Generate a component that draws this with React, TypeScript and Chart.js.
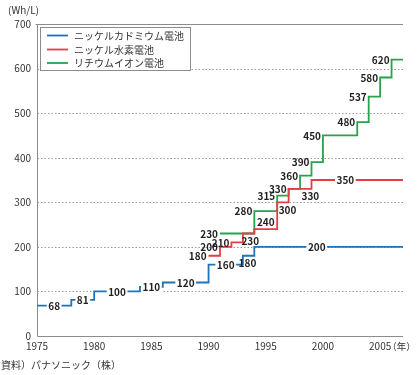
import React, { useEffect, useRef } from 'react';
import { Chart, registerables } from 'chart.js';

Chart.register(...registerables);

const FONT = '"Noto Sans CJK JP", "Noto Sans", sans-serif';

const seriesNames = ['ニッケルカドミウム電池', 'ニッケル水素電池', 'リチウムイオン電池'];
const seriesColors = ['#1f74b9', '#e43d45', '#27a24d'];

const nicdYears = [1975, 1978, 1980, 1984, 1986, 1990, 1993, 1994];
const nicdValues = [68, 81, 100, 110, 120, 160, 180, 200];
const nimhYears = [1990, 1991, 1992, 1993, 1994, 1996, 1997, 1999];
const nimhValues = [180, 200, 210, 230, 240, 300, 330, 350];
const liionYears = [1991, 1994, 1996, 1997, 1998, 1999, 2000, 2003, 2004, 2005, 2006];
const liionValues = [230, 280, 315, 330, 360, 390, 450, 480, 537, 580, 620];
const endYear = 2007;
const startYear = 1975;

const xTickYears = [1975, 1980, 1985, 1990, 1995, 2000, 2005];
const yTickValues = [0, 100, 200, 300, 400, 500, 600, 700];
const gridValues = [100, 200, 300, 400, 500, 600];

const unitLabel = '(Wh/L)';
const yearUnit = '（年）';
const sourceNote = '資料）パナソニック（株）';

// label placement: [anchor, fraction along the step segment]
const nicdLabelPlace: [string, number][] = [
  ['on', 0.5], ['on', 0.5], ['on', 0.5], ['on', 0.5], ['on', 0.5], ['on', 0.5], ['below', 0.4], ['on', 0.42],
];
const nimhLabelPlace: [string, number][] = [
  ['left', 0], ['left', 0], ['left', 0], ['below', 0.65], ['above', 0.5], ['below', 0.9], ['below', 0.95], ['on', 0.37],
];
const liionLabelPlace: [string, number][] = liionValues.map(() => ['left', 0] as [string, number]);

const seriesYears = [nicdYears, nimhYears, liionYears];
const seriesValues = [nicdValues, nimhValues, liionValues];
const seriesPlaces = [nicdLabelPlace, nimhLabelPlace, liionLabelPlace];

const toPoints = (years: number[], values: number[]) => {
  const pts = years.map((x, i) => ({ x, y: values[i] }));
  pts.push({ x: endYear, y: values[values.length - 1] });
  return pts;
};

const decorPlugin = {
  id: 'decor',
  beforeDatasetsDraw(chart: any) {
    const { ctx, chartArea, scales } = chart;
    const ys = scales.y;
    const L = Math.round(chartArea.left) + 0.5;
    const R = Math.round(chartArea.right);
    ctx.save();
    ctx.lineWidth = 1;
    ctx.strokeStyle = '#9a9a9a';
    ctx.setLineDash([1.5, 2]);
    gridValues.forEach((v) => {
      const y = Math.round(ys.getPixelForValue(v)) + 0.5;
      ctx.beginPath();
      ctx.moveTo(L, y);
      ctx.lineTo(R, y);
      ctx.stroke();
    });
    ctx.setLineDash([]);
    ctx.strokeStyle = '#8c8c8c';
    const yTop = Math.round(ys.getPixelForValue(700)) + 0.5;
    const yBot = Math.round(ys.getPixelForValue(0)) + 0.5;
    ctx.beginPath();
    ctx.moveTo(L - 2, yTop);
    ctx.lineTo(R, yTop);
    ctx.moveTo(L, yTop);
    ctx.lineTo(L, yBot);
    ctx.lineTo(R, yBot);
    ctx.stroke();
    ctx.restore();
  },
  afterDatasetsDraw(chart: any) {
    const { ctx, scales } = chart;
    const xs = scales.x;
    const ys = scales.y;
    ctx.save();
    ctx.font = 'bold 10px ' + FONT;
    ctx.fillStyle = '#231f20';
    seriesYears.forEach((years, si) => {
      const vals = seriesValues[si];
      const places = seriesPlaces[si];
      years.forEach((yr, i) => {
        const nextYr = i + 1 < years.length ? years[i + 1] : endYear;
        const x0 = xs.getPixelForValue(yr);
        const x1 = xs.getPixelForValue(nextYr);
        const yy = ys.getPixelForValue(vals[i]);
        const [anchor, f] = places[i];
        const text = String(vals[i]);
        const w = ctx.measureText(text).width;
        ctx.textBaseline = 'middle';
        if (anchor === 'left') {
          ctx.textAlign = 'right';
          ctx.fillText(text, x0 - 2, yy + 0.5);
        } else if (anchor === 'on') {
          const cx = x0 + f * (x1 - x0);
          ctx.fillStyle = '#ffffff';
          ctx.fillRect(cx - w / 2 - 1.5, yy - 5, w + 3, 10);
          ctx.fillStyle = '#231f20';
          ctx.textAlign = 'center';
          ctx.fillText(text, cx, yy + 0.5);
        } else if (anchor === 'below') {
          const cx = x0 + f * (x1 - x0);
          ctx.textAlign = 'center';
          ctx.fillText(text, cx, yy + 7.5);
        } else if (anchor === 'above') {
          const cx = x0 + f * (x1 - x0);
          ctx.textAlign = 'center';
          ctx.fillText(text, cx, yy - 6.5);
        }
      });
    });
    ctx.restore();
  },
  afterDraw(chart: any) {
    const { ctx, scales } = chart;
    const xs = scales.x;
    const ys = scales.y;
    ctx.save();
    // legend box
    ctx.fillStyle = '#ffffff';
    ctx.fillRect(40.5, 27.5, 150, 43);
    ctx.strokeStyle = '#8c8c8c';
    ctx.lineWidth = 1;
    ctx.strokeRect(40.5, 27.5, 150, 43);
    const rows = [35.5, 49.5, 63];
    seriesNames.forEach((name, i) => {
      ctx.strokeStyle = seriesColors[i];
      ctx.lineWidth = 1.8;
      ctx.beginPath();
      ctx.moveTo(47, rows[i]);
      ctx.lineTo(68, rows[i]);
      ctx.stroke();
      ctx.fillStyle = '#333333';
      ctx.font = '10px ' + FONT;
      ctx.textAlign = 'left';
      ctx.textBaseline = 'middle';
      ctx.fillText(name, 74, rows[i] + 0.5);
    });
    // unit
    ctx.fillStyle = '#333333';
    ctx.font = '10px ' + FONT;
    ctx.textAlign = 'left';
    ctx.textBaseline = 'middle';
    ctx.fillText(unitLabel, 8, 10);
    // year unit
    const x2005 = xs.getPixelForValue(2005);
    ctx.font = '9.5px ' + FONT;
    ctx.fillText(yearUnit, x2005 + 7, ys.getPixelForValue(0) + 10);
    // source
    ctx.font = '10px ' + FONT;
    ctx.fillText(sourceNote, 1, 365);
    ctx.restore();
  },
};

export default function App() {
  const ref = useRef<HTMLCanvasElement | null>(null);
  useEffect(() => {
    document.body.style.margin = '0';
    const canvas = ref.current;
    if (!canvas) return;
    const chart = new Chart(canvas, {
      type: 'line',
      data: {
        datasets: seriesNames.map((name, i) => ({
          label: name,
          data: toPoints(seriesYears[i], seriesValues[i]),
          borderColor: seriesColors[i],
          backgroundColor: seriesColors[i],
          borderWidth: 1.8,
          pointRadius: 0,
          stepped: 'before' as const,
          fill: false,
        })),
      },
      options: {
        animation: false,
        responsive: false,
        devicePixelRatio: 1,
        layout: { padding: { left: 0, right: 16, top: 24, bottom: 0 } },
        plugins: { legend: { display: false }, tooltip: { enabled: false } },
        scales: {
          x: {
            type: 'linear',
            min: startYear,
            max: endYear,
            grid: { display: false, drawTicks: false },
            border: { display: false },
            afterBuildTicks: (s: any) => {
              s.ticks = xTickYears.map((v) => ({ value: v }));
            },
            afterFit: (s: any) => {
              s.height = 39;
            },
            ticks: {
              autoSkip: false,
              maxRotation: 0,
              padding: 4,
              color: '#333333',
              font: { family: FONT, size: 10 },
              callback: (v: any) => String(v),
            },
          },
          y: {
            type: 'linear',
            min: 0,
            max: 700,
            grid: { display: false, drawTicks: false },
            border: { display: false },
            afterBuildTicks: (s: any) => {
              s.ticks = yTickValues.map((v) => ({ value: v }));
            },
            afterFit: (s: any) => {
              s.width = 37;
            },
            ticks: {
              padding: 6,
              color: '#333333',
              font: { family: FONT, size: 10 },
              callback: (v: any) => String(v),
            },
          },
        },
      },
      plugins: [decorPlugin],
    });
    return () => chart.destroy();
  }, []);
  return (
    <div style={{ width: 419, height: 375, background: '#ffffff' }}>
      <canvas ref={ref} width={419} height={375} />
    </div>
  );
}
